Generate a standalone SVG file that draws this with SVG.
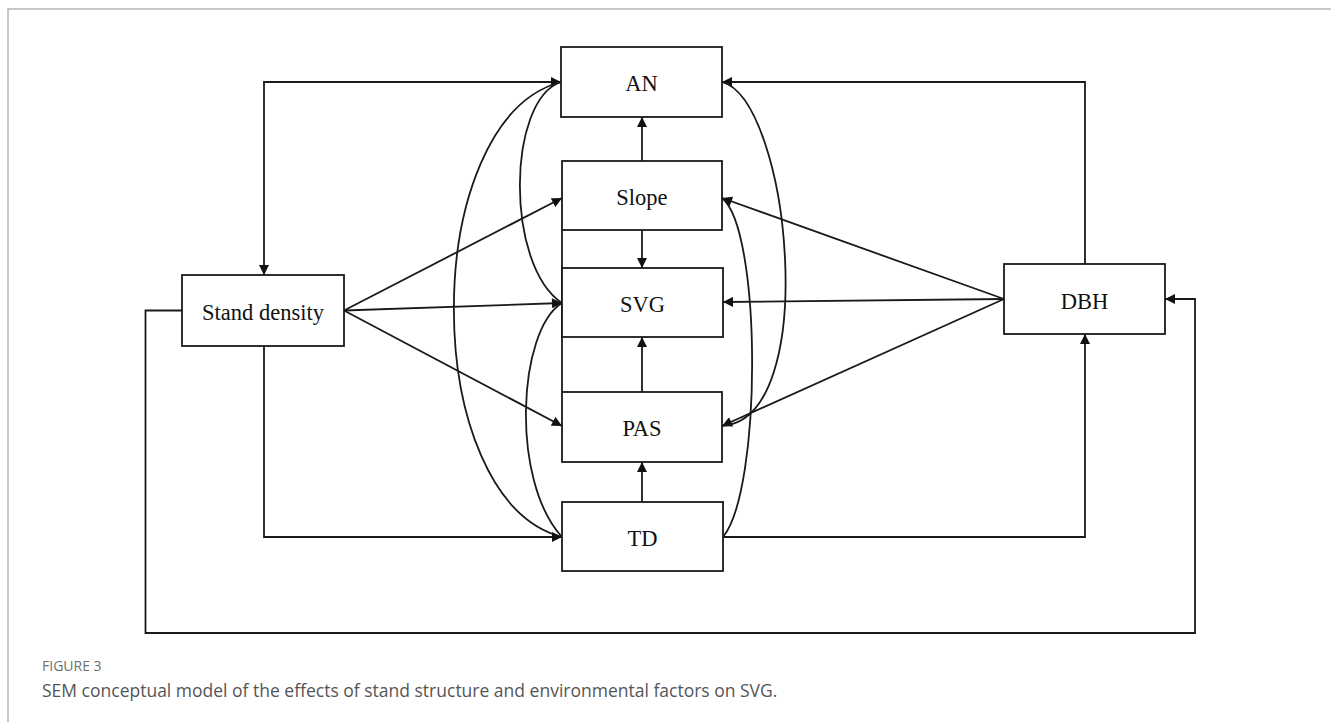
<svg xmlns="http://www.w3.org/2000/svg" width="1331" height="722" viewBox="0 0 1331 722">
<defs>
<style>
.box{fill:#fff;stroke:#1a1a1a;stroke-width:1.8}
.lbl{font-family:"Liberation Serif","Times New Roman",serif;font-size:22.5px;fill:#111;text-anchor:middle}
.ln{fill:none;stroke:#1a1a1a;stroke-width:1.8}
.cap{font-family:"Open Sans","Noto Sans",sans-serif;fill:#555}
</style>
<marker id="ah" viewBox="0 0 10 10" refX="10" refY="5" markerWidth="12" markerHeight="10" markerUnits="userSpaceOnUse" orient="auto-start-reverse">
<path d="M0,0 L10,5 L0,10 Z" fill="#111"/>
</marker>
</defs>
<rect width="1331" height="722" fill="#fff"/>
<path d="M8,722 V9 H1331" fill="none" stroke="#b5b5b5" stroke-width="1.5"/>

<g id="connectors">
<line class="ln" x1="642" y1="161" x2="642" y2="117" marker-end="url(#ah)"/>
<line class="ln" x1="642" y1="230" x2="642" y2="268" marker-end="url(#ah)"/>
<line class="ln" x1="642" y1="392" x2="642" y2="337" marker-end="url(#ah)"/>
<line class="ln" x1="642" y1="502" x2="642" y2="462" marker-end="url(#ah)"/>
<line class="ln" x1="562" y1="230" x2="562" y2="392"/>
<path class="ln" d="M561,82 H264 V275" marker-start="url(#ah)" marker-end="url(#ah)"/>
<path class="ln" d="M264,346 V537 H562" marker-end="url(#ah)"/>
<path class="ln" d="M182,310.5 H145.5 V633 H1195 V299 H1165" marker-end="url(#ah)"/>
<line class="ln" x1="344" y1="310.5" x2="562" y2="198" marker-end="url(#ah)"/>
<line class="ln" x1="344" y1="310.5" x2="562" y2="303" marker-end="url(#ah)"/>
<line class="ln" x1="344" y1="310.5" x2="562" y2="426" marker-end="url(#ah)"/>
<path class="ln" d="M1085,264 V82 H722" marker-end="url(#ah)"/>
<path class="ln" d="M723,537 H1085 V334" marker-end="url(#ah)"/>
<line class="ln" x1="1004" y1="299" x2="722" y2="198" marker-end="url(#ah)"/>
<line class="ln" x1="1004" y1="299" x2="723" y2="302" marker-end="url(#ah)"/>
<line class="ln" x1="1004" y1="299" x2="722" y2="426" marker-end="url(#ah)"/>
<path class="ln" d="M561,82 C507,100 505,265 562,303"/>
<path class="ln" d="M561,82 C418,120 418,499 562,537"/>
<path class="ln" d="M562,303 C518,330 510,480 562,537"/>
<path class="ln" d="M722,82 C790,100 822,420 722,426"/>
<path class="ln" d="M722,198 C762,230 762,490 723,537"/>
</g>

<g id="node-an"><rect class="box" x="561" y="47" width="161" height="70"/><text class="lbl" x="641.5" y="91">AN</text></g>
<g id="node-slope"><rect class="box" x="562" y="161" width="160" height="69"/><text class="lbl" x="642" y="204.5">Slope</text></g>
<g id="node-svg"><rect class="box" x="562" y="268" width="161" height="69"/><text class="lbl" x="642.5" y="311.5">SVG</text></g>
<g id="node-pas"><rect class="box" x="562" y="392" width="160" height="70"/><text class="lbl" x="642" y="436">PAS</text></g>
<g id="node-td"><rect class="box" x="562" y="502" width="161" height="69"/><text class="lbl" x="642.5" y="545.5">TD</text></g>
<g id="node-stand-density"><rect class="box" x="182" y="275" width="162" height="71"/><text class="lbl" x="263" y="320">Stand density</text></g>
<g id="node-dbh"><rect class="box" x="1004" y="264" width="161" height="70"/><text class="lbl" x="1084.5" y="309">DBH</text></g>

<g id="caption">
<text class="cap" x="42" y="671" font-size="14" style="fill:#6f6f6f">FIGURE 3</text>
<text class="cap" x="42" y="697" font-size="17.5">SEM conceptual model of the effects of stand structure and environmental factors on SVG.</text>
</g>
</svg>
